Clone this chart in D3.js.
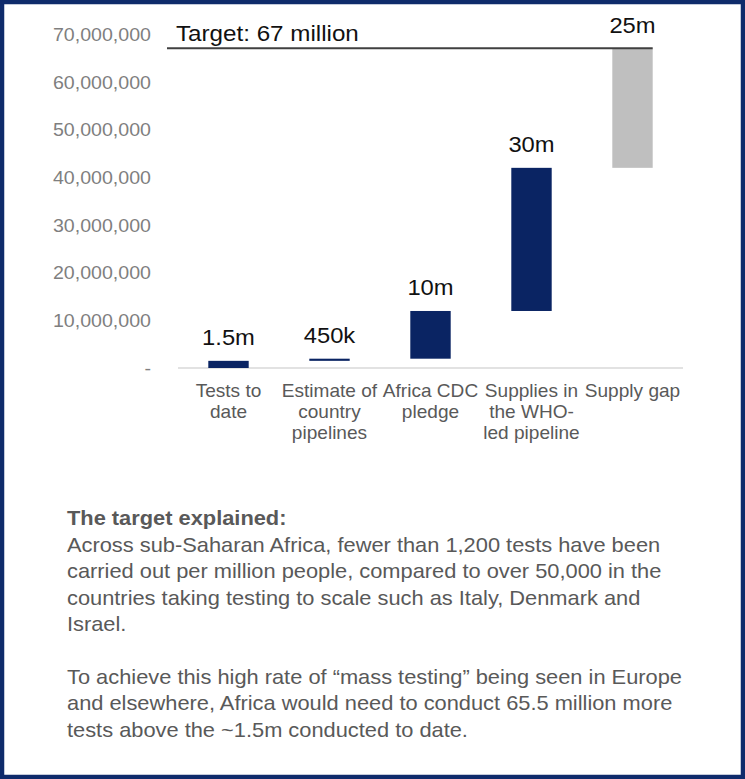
<!DOCTYPE html>
<html><head><meta charset="utf-8">
<script src="https://cdn.jsdelivr.net/npm/d3@7"></script>
<style>
html,body{margin:0;padding:0;background:#fff;}
svg{display:block;font-family:"Liberation Sans",Arial,sans-serif;}
</style></head>
<body>
<svg id="c" width="745" height="779"></svg>
<script>
const categories = ["Tests to date","Estimate of country pipelines","Africa CDC pledge","Supplies in the WHO-led pipeline","Supply gap"];
const categoryLines = [["Tests to","date"],["Estimate of","country","pipelines"],["Africa CDC","pledge"],["Supplies in","the WHO-","led pipeline"],["Supply gap"]];
const values = [1500000, 450000, 10000000, 30000000, 25000000];
const valueLabels = ["1.5m","450k","10m","30m","25m"];
const isGap = [false,false,false,false,true];
const tickValues = [0,10000000,20000000,30000000,40000000,50000000,60000000,70000000];
const target = 67000000;
const targetLabel = "Target: 67 million";
const noteTitle = "The target explained:";
const noteLines = [
 "Across sub-Saharan Africa, fewer than 1,200 tests have been",
 "carried out per million people, compared to over 50,000 in the",
 "countries taking testing to scale such as Italy, Denmark and",
 "Israel.",
 "",
 "To achieve this high rate of \u201cmass testing\u201d being seen in Europe",
 "and elsewhere, Africa would need to conduct 65.5 million more",
 "tests above the ~1.5m conducted to date."
];

const svg = d3.select("#c");
const W = 745, H = 779;

// horizontal stretch of text around its anchor x
function stretch(sel, k){
  sel.each(function(){
    const t = d3.select(this);
    const ax = +t.attr("x") || 0;
    t.attr("transform", `translate(${ax},0) scale(${k},1) translate(${-ax},0)`);
  });
}

// frame
svg.append("rect").attr("x",2).attr("y",2).attr("width",W-4).attr("height",H-4)
  .attr("fill","#fff").attr("stroke","#0f2b6b").attr("stroke-width",4.5);

const y = d3.scaleLinear().domain([0,70000000]).range([368,34]);
const x = d3.scaleBand().domain(categories).range([178,683]).paddingInner(0.6).paddingOuter(0.3);

// waterfall
let cum = 0;
const bars = values.map((v,i)=>{ const b = {cat:categories[i], start:cum, end:cum+v, label:valueLabels[i], gap:isGap[i], lines:categoryLines[i]}; cum += v; return b; });

// y axis
const yAxis = d3.axisLeft(y).tickValues(tickValues).tickSize(0).tickPadding(0)
  .tickFormat(d => d===0 ? "-" : d3.format(",")(d));
const ya = svg.append("g").attr("transform","translate(151,0)").call(yAxis);
ya.select(".domain").remove();
ya.selectAll("text").attr("font-size",18).attr("fill","#7f7f7f").attr("font-family","Liberation Sans, Arial, sans-serif").attr("dy","0.35em")
  .attr("transform","scale(1.09,1)");

// baseline
svg.append("line").attr("x1",178).attr("x2",683).attr("y1",y(0)).attr("y2",y(0))
  .attr("stroke","#d9d9d9").attr("stroke-width",1.5);

// bars
svg.selectAll("rect.bar").data(bars).enter().append("rect").attr("class","bar")
  .attr("x",d=>x(d.cat)).attr("width",x.bandwidth())
  .attr("y",d=>y(d.end)).attr("height",d=>Math.max(1.5,y(d.start)-y(d.end)))
  .attr("fill",d=>d.gap?"#bfbfbf":"#0a2463");

// target line
svg.append("line").attr("x1",167).attr("x2",x(categories[4])+x.bandwidth())
  .attr("y1",y(target)).attr("y2",y(target)).attr("stroke","#404040").attr("stroke-width",2);
svg.append("text").attr("x",176).attr("y",y(target)-7).attr("font-size",22).attr("fill","#111").text(targetLabel)
  .call(stretch,1.1);

// value labels
svg.selectAll("text.vl").data(bars).enter().append("text").attr("class","vl")
  .attr("x",d=>x(d.cat)+x.bandwidth()/2).attr("y",d=>y(d.end)-16)
  .attr("text-anchor","middle").attr("font-size",22).attr("fill","#111").text(d=>d.label)
  .call(stretch,1.08);

// category labels
bars.forEach(d=>{
  d.lines.forEach((ln,k)=>{
    svg.append("text").attr("class","cl").attr("text-anchor","middle").attr("font-size",18).attr("fill","#595959")
      .attr("x",x(d.cat)+x.bandwidth()/2).attr("y",397+k*20.8).text(ln).call(stretch,1.06);
  });
});

// note
svg.append("text").attr("x",67).attr("y",525).attr("font-size",21).attr("font-weight","bold").attr("fill","#595959").text(noteTitle)
  .call(stretch,1.04);
svg.selectAll("text.nl").data(noteLines).enter().append("text").attr("class","nl")
  .attr("x",67).attr("y",(d,i)=>552+i*26.4).attr("font-size",21).attr("fill","#595959")
  .text(d=>d)
  .call(stretch,1.04);
</script>
</body></html>
